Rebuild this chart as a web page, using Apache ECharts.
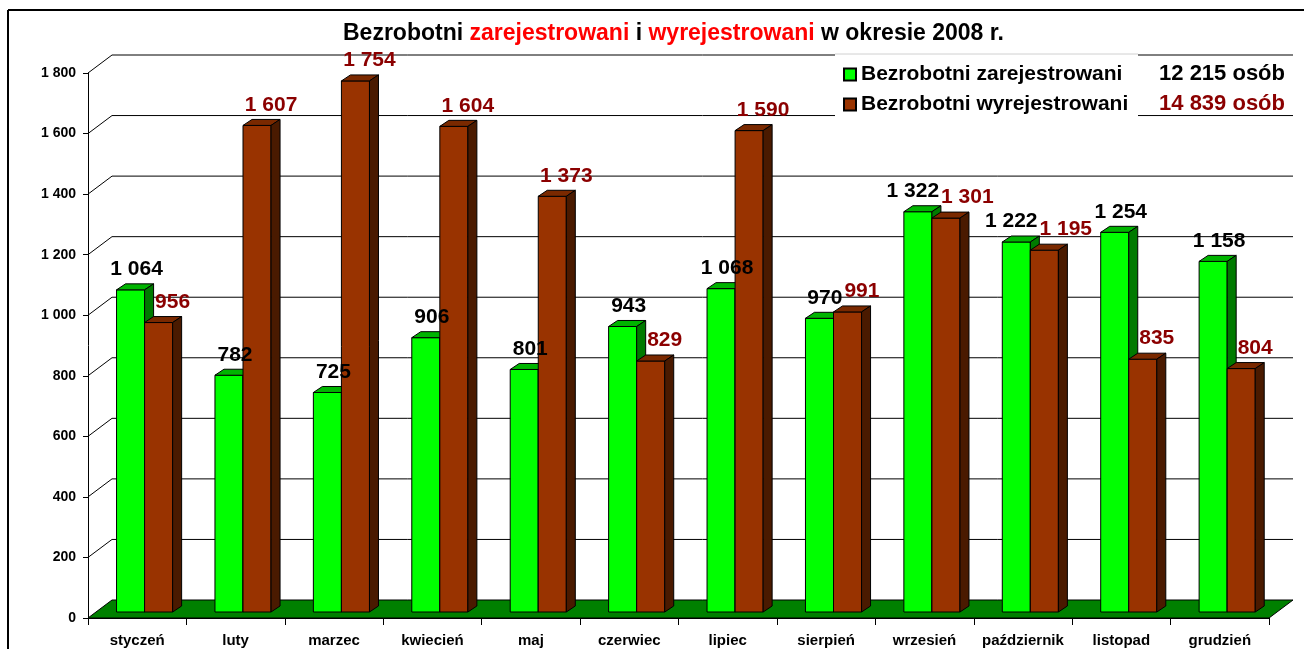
<!DOCTYPE html>
<html>
<head>
<meta charset="utf-8">
<script src="https://cdn.jsdelivr.net/npm/echarts@6/dist/echarts.min.js"></script>
<style>
  html, body { margin: 0; padding: 0; background: #fff; }
  #chart { width: 1304px; height: 649px; }
</style>
</head>
<body>
<div id="chart"></div>
<script>
const months = ['styczeń', 'luty', 'marzec', 'kwiecień', 'maj', 'czerwiec',
  'lipiec', 'sierpień', 'wrzesień', 'październik', 'listopad', 'grudzień'];
const registered = [1064, 782, 725, 906, 801, 943, 1068, 970, 1322, 1222, 1254, 1158];
const deregistered = [956, 1607, 1754, 1604, 1373, 829, 1590, 991, 1301, 1195, 835, 804];
const yTicks = [0, 200, 400, 600, 800, 1000, 1200, 1400, 1600, 1800];
const seriesNames = ['Bezrobotni zarejestrowani', 'Bezrobotni wyrejestrowani'];

const FONT = '"Liberation Sans", Arial, sans-serif';
const DEPTH_X = 24, DEPTH_Y = 18;   // back wall offset
const BAR_DX = 9, BAR_DY = 6;       // bar depth
const LABEL_FONT = 'bold 21px ' + FONT;

function fmt(v) {
  return String(v).replace(/\B(?=(\d{3})+(?!\d))/g, ' ');
}
const sum = arr => arr.reduce((a, b) => a + b, 0);

// back wall gridlines + floor
function renderWall(params, api) {
  const cs = params.coordSys;
  const v = api.value(1);
  const y = api.coord([0, v])[1];
  const xl = cs.x, xr = cs.x + cs.width;
  if (v === 0) {
    return {
      type: 'polygon',
      shape: { points: [[xl, y], [xl + DEPTH_X, y - DEPTH_Y], [xr + DEPTH_X, y - DEPTH_Y], [xr, y]] },
      style: { fill: '#008000', stroke: '#000', lineWidth: 1 }
    };
  }
  return {
    type: 'polyline',
    shape: { points: [[xl, y], [xl + DEPTH_X, y - DEPTH_Y], [xr + DEPTH_X, y - DEPTH_Y]] },
    style: { stroke: '#000', lineWidth: 1, fill: null }
  };
}

// front-face geometry of a bar in slot 0 (green) or 1 (brown)
function barBox(api, slot, val) {
  const idx = api.value(0);
  const base = api.coord([idx, 0]);
  const peak = api.coord([idx, val]);
  const bw = api.size([1, 0])[0];
  const w = bw * 0.285;
  const x0 = base[0] - bw * 0.21 + slot * w;
  return { x0: x0, w: w, yb: base[1] - 6, yt: peak[1] - 6 };
}

function barRenderer(slot, colors) {
  return function (params, api) {
    const b = barBox(api, slot, api.value(1));
    const x0 = b.x0, w = b.w, yt = b.yt, yb = b.yb;
    return {
      type: 'group',
      children: [
        {
          type: 'rect',
          shape: { x: x0, y: yt, width: w, height: yb - yt },
          style: { fill: colors[0], stroke: '#000', lineWidth: 1 }
        },
        {
          type: 'polygon',
          shape: { points: [[x0, yt], [x0 + BAR_DX, yt - BAR_DY], [x0 + w + BAR_DX, yt - BAR_DY], [x0 + w, yt]] },
          style: { fill: colors[1], stroke: '#000', lineWidth: 1 }
        },
        {
          type: 'polygon',
          shape: { points: [[x0 + w, yt], [x0 + w + BAR_DX, yt - BAR_DY], [x0 + w + BAR_DX, yb - BAR_DY], [x0 + w, yb]] },
          style: { fill: colors[2], stroke: '#000', lineWidth: 1 }
        }
      ]
    };
  };
}

// both value labels of a month, pushed apart when they would collide
function renderLabels(params, api) {
  const g = api.value(1), r = api.value(2);
  const bg = barBox(api, 0, g), br = barBox(api, 1, r);
  const tg = fmt(g), tr = fmt(r);
  const wg = echarts.format.getTextRect ? echarts.format.getTextRect(tg, LABEL_FONT).width : tg.length * 11;
  const wr = echarts.format.getTextRect ? echarts.format.getTextRect(tr, LABEL_FONT).width : tr.length * 11;
  let xg = bg.x0 + bg.w / 2 + 6, xr = br.x0 + br.w / 2 + 14;
  const yg = bg.yt - 10, yr = br.yt - 10;
  if (Math.abs(yg - yr) < 22) {
    const overlap = (xg + wg / 2) - (xr - wr / 2) + 2;
    if (overlap > 0) { xg -= overlap * 0.6; xr += overlap * 0.4; }
  }
  return {
    type: 'group',
    children: [
      { type: 'text', style: { text: tg, x: xg, y: yg, align: 'center', verticalAlign: 'bottom', fill: '#000', font: LABEL_FONT } },
      { type: 'text', style: { text: tr, x: xr, y: yr, align: 'center', verticalAlign: 'bottom', fill: '#8b0000', font: LABEL_FONT } }
    ]
  };
}

const chart = echarts.init(document.getElementById('chart'));
chart.setOption({
  animation: false,
  backgroundColor: '#fff',
  title: {
    left: 338, top: 17,
    text: '{b|Bezrobotni }{r|zarejestrowani}{b| i }{r|wyrejestrowani}{b| w okresie 2008 r.}',
    textStyle: {
      rich: {
        b: { color: '#000', fontWeight: 'bold', fontSize: 23, fontFamily: FONT },
        r: { color: '#ff0000', fontWeight: 'bold', fontSize: 23, fontFamily: FONT }
      }
    }
  },
  legend: {
    orient: 'vertical',
    left: 838, top: 59,
    z: 6,
    data: seriesNames,
    icon: 'rect',
    itemWidth: 12, itemHeight: 12, itemGap: 9,
    textStyle: { color: '#000', fontWeight: 'bold', fontSize: 21, fontFamily: FONT }
  },
  graphic: [
    { type: 'rect', z: 5, shape: { x: 835, y: 54, width: 303, height: 65 }, style: { fill: '#fff' } },
    { type: 'line', z: 5, shape: { x1: 835, y1: 54, x2: 1138, y2: 54 }, style: { stroke: '#d0d0d0', lineWidth: 1 } },
    { type: 'text', z: 6, style: { text: fmt(sum(registered)) + ' osób', x: 1285, y: 74, align: 'right', verticalAlign: 'middle', fill: '#000', font: 'bold 22px ' + FONT } },
    { type: 'text', z: 6, style: { text: fmt(sum(deregistered)) + ' osób', x: 1285, y: 104, align: 'right', verticalAlign: 'middle', fill: '#8b0000', font: 'bold 22px ' + FONT } },
    { type: 'line', z: 6, shape: { x1: 8, y1: 10, x2: 1304, y2: 10 }, style: { stroke: '#000', lineWidth: 2 } },
    { type: 'line', z: 6, shape: { x1: 8, y1: 10, x2: 8, y2: 649 }, style: { stroke: '#000', lineWidth: 2 } }
  ],
  grid: { left: 88, right: 35, top: 73, bottom: 31 },
  xAxis: {
    type: 'category',
    data: months,
    boundaryGap: true,
    axisLine: { lineStyle: { color: '#000', width: 1 } },
    axisTick: { show: true, length: 7, lineStyle: { color: '#000' } },
    axisLabel: { color: '#000', fontWeight: 'bold', fontSize: 15, fontFamily: FONT, margin: 15, interval: 0 }
  },
  yAxis: {
    type: 'value',
    min: 0, max: 1800, interval: 200,
    axisLine: { show: true, lineStyle: { color: '#000', width: 1 } },
    axisTick: { show: true, length: 5, lineStyle: { color: '#000' } },
    splitLine: { show: false },
    axisLabel: { color: '#000', fontWeight: 'bold', fontSize: 14, fontFamily: FONT, margin: 12, formatter: fmt }
  },
  series: [
    {
      type: 'custom', name: 'wall', z: 1, silent: true,
      renderItem: renderWall,
      data: yTicks.map(v => [0, v])
    },
    {
      type: 'custom', name: seriesNames[0], z: 2,
      itemStyle: { color: '#00ff00', borderColor: '#000', borderWidth: 1 },
      renderItem: barRenderer(0, ['#00ff00', '#00b400', '#007a00']),
      data: registered.map((v, i) => [i, v])
    },
    {
      type: 'custom', name: seriesNames[1], z: 3,
      itemStyle: { color: '#993300', borderColor: '#000', borderWidth: 1 },
      renderItem: barRenderer(1, ['#993300', '#7a2900', '#4a1a00']),
      data: deregistered.map((v, i) => [i, v])
    },
    {
      type: 'custom', name: 'labels', z: 8, silent: true,
      renderItem: renderLabels,
      encode: { x: 0, y: [1, 2] },
      data: registered.map((v, i) => [i, v, deregistered[i]])
    }
  ]
});
</script>
</body>
</html>
